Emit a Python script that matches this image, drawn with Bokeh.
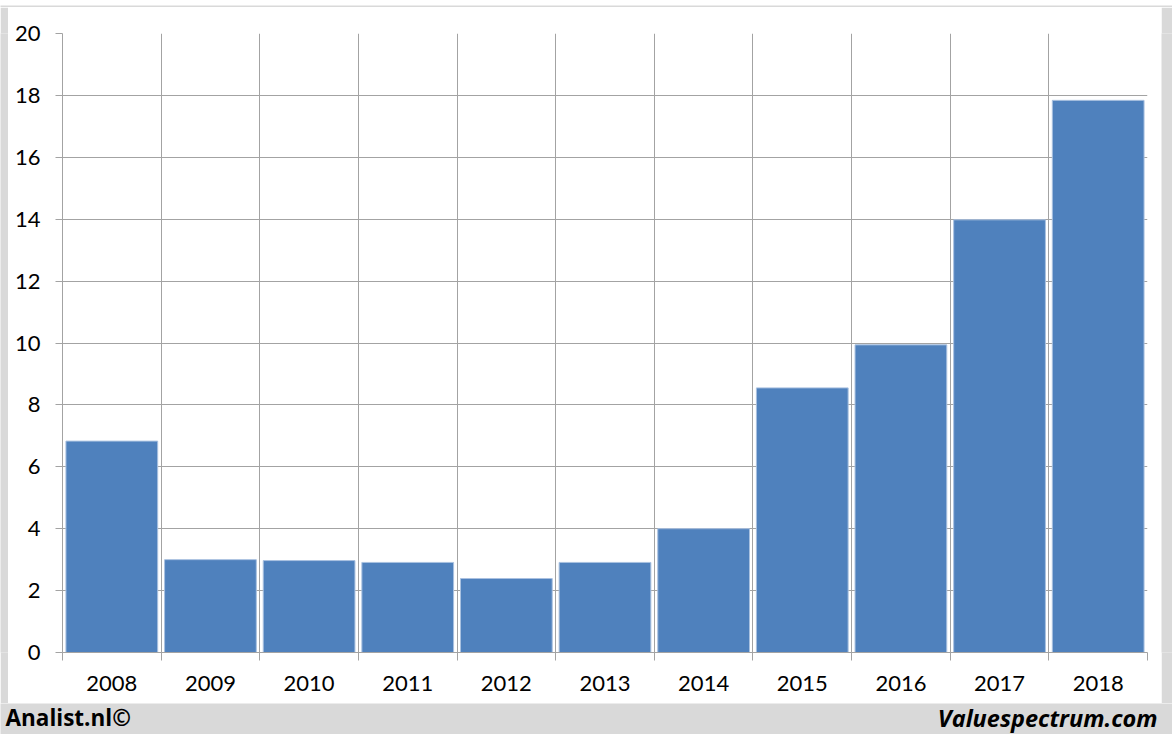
from bokeh.plotting import figure
from bokeh.layouts import column, row
from bokeh.models import Range1d, FixedTicker
from bokeh.core.properties import value
from bokeh.embed import file_html
from bokeh.resources import INLINE

years = ["2008", "2009", "2010", "2011", "2012", "2013", "2014", "2015", "2016", "2017", "2018"]
values = [6.83, 3.0, 2.97, 2.91, 2.39, 2.91, 4.0, 8.55, 9.94, 13.98, 17.84]
y_ticks = [0, 2, 4, 6, 8, 10, 12, 14, 16, 18, 20]
left_note = "Analist.nl©"
right_note = "Valuespectrum.com"

FONT = "Lato"
NOTE_FONT = "Open Sans"
GRID = "#a3a3a3"
BAND = "#d9d9d9"
BAR = "#4f81bd"

n = len(years)
centers = [i + 0.5 for i in range(n)]
bounds = list(range(n + 1))


def strip(w, h):
    s = figure(width=w, height=h, output_backend="svg", toolbar_location=None,
               min_border=0, x_axis_type=None, y_axis_type=None)
    s.background_fill_color = BAND
    s.border_fill_color = BAND
    s.outline_line_color = None
    s.grid.visible = False
    return s


p = figure(width=1153, height=696, output_backend="svg", toolbar_location=None,
           x_range=Range1d(0, n), y_range=Range1d(0, 20),
           min_border_left=54, min_border_right=14, min_border_top=26, min_border_bottom=51)
p.border_fill_color = "white"
p.background_fill_color = "white"
p.outline_line_color = None

p.vbar(x=centers, top=values, width=0.93, fill_color=BAR, line_color="#a9c1e0", line_width=1)

p.xaxis.ticker = FixedTicker(ticks=centers, minor_ticks=bounds)
p.xaxis.major_label_overrides = {c: y for c, y in zip(centers, years)}
p.xaxis.major_tick_out = 0
p.xaxis.major_tick_in = 0
p.xaxis.minor_tick_out = 8
p.xaxis.minor_tick_in = 0
p.xaxis.minor_tick_line_color = GRID
p.xaxis.axis_line_color = GRID
p.xaxis.major_label_standoff = 15
p.xaxis.major_label_text_font = FONT
p.xaxis.major_label_text_font_size = "22px"
p.xaxis.major_label_text_color = "#000000"

p.yaxis.ticker = FixedTicker(ticks=y_ticks)
p.yaxis.major_tick_out = 7
p.yaxis.major_tick_in = 0
p.yaxis.minor_tick_line_color = None
p.yaxis.major_tick_line_color = GRID
p.yaxis.axis_line_color = GRID
p.yaxis.major_label_standoff = 15
p.yaxis.major_label_text_font = FONT
p.yaxis.major_label_text_font_size = "22px"
p.yaxis.major_label_text_color = "#000000"

p.xgrid.ticker = FixedTicker(ticks=bounds)
p.xgrid.grid_line_color = GRID
p.ygrid.grid_line_color = GRID
p.xgrid.level = "underlay"
p.ygrid.level = "underlay"

top_s = strip(1172, 7)
left_s = strip(8, 696)
right_s = strip(11, 696)

b = figure(width=1172, height=31, output_backend="svg", toolbar_location=None,
           min_border=0, x_axis_type=None, y_axis_type=None,
           x_range=Range1d(0, 1172), y_range=Range1d(0, 31))
b.background_fill_color = BAND
b.border_fill_color = BAND
b.outline_line_color = None
b.grid.visible = False
b.text(x=[5], y=[17], text=[left_note], text_font=value(NOTE_FONT), text_font_size="22.5px",
       text_font_style="bold", text_align="left", text_baseline="alphabetic", text_color="#000000")
b.text(x=[1157], y=[17], text=[right_note], text_font=value(NOTE_FONT), text_font_size="23.5px",
       text_font_style="bold italic", text_align="right", text_baseline="alphabetic", text_color="#000000")

layout = column(top_s, row(left_s, p, right_s, spacing=0), b, spacing=0)
open("out.html", "w").write(file_html(layout, INLINE))
